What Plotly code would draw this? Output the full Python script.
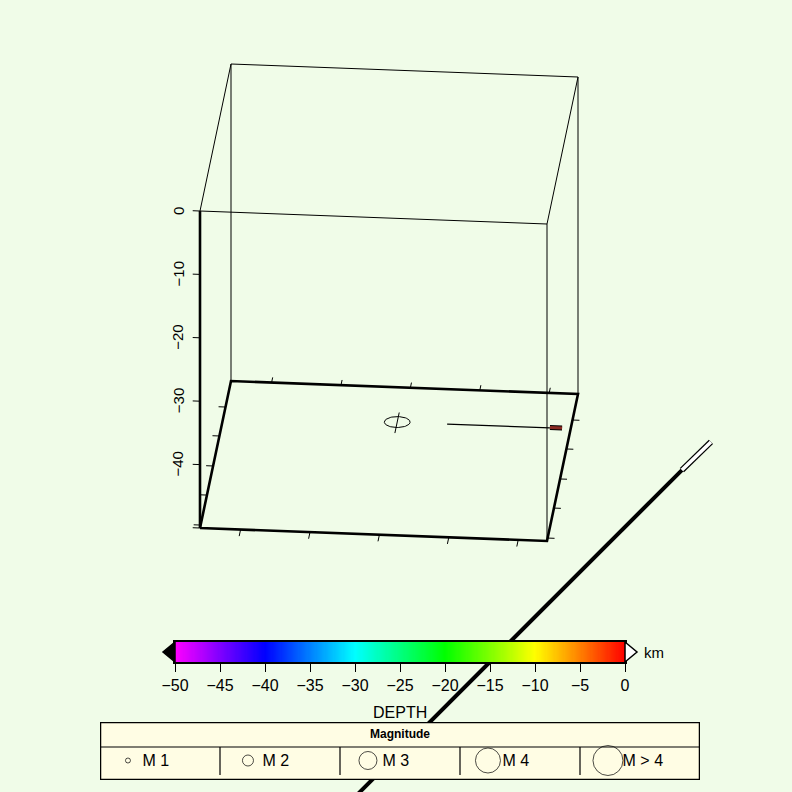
import numpy as np
import plotly.graph_objects as go

# ---------------- data ----------------
# 3-D box (normalised map units east/north, depth in km)
box_x = [0.0, 1.0]
box_y = [0.0, 1.0]
box_z = [-50.0, 0.0]
z_ticks = [0, -10, -20, -30, -40, -50]
z_tick_labels = ["0", "−10", "−20", "−30", "−40", ""]
x_ticks = [0.117, 0.317, 0.517, 0.717, 0.917]
y_ticks = [0.02, 0.224, 0.422, 0.626, 0.823]

# event symbol (circle on the base plane with a N-S bar)
event_x = [0.50]
event_y = [0.765]
event_z = [-50.0]
event_radius = [0.037]

# E-W section line and its end marker
section_x = [0.644, 0.940]
section_y = [0.764, 0.764]
section_end_x = [0.940, 0.975]
section_end_y = [0.766, 0.766]

# fault trace (solid part and outlined part)
fault_x = [0.533, 1.343]
fault_y = [-2.0, 0.513]
fault_tip_x = [1.343, 1.409]
fault_tip_y = [0.513, 0.710]

# colour bar
depth_ticks = [-50, -45, -40, -35, -30, -25, -20, -15, -10, -5, 0]
depth_range = [-50, 0]

# magnitude legend
mag_labels = ["M 1", "M 2", "M 3", "M 4", "M > 4"]
mag_symbol_sizes = [5, 11, 18, 25, 30]

# ---------------- style ----------------
W = H = 792
BG = "#f0fce8"
LEG_BG = "#fffde4"
FONT = "Liberation Sans, Arial, Helvetica, sans-serif"


def proj(X, Y, Z):
    X = np.asarray(X, float); Y = np.asarray(Y, float); Z = np.asarray(Z, float)
    px = 200 + 347 * X + 31 * Y
    py = 528 + 13 * X - 147 * Y - 6.34 * (Z + 50)
    return px, py


fig = go.Figure()


def add_line(X, Y, Z, width=1, color="black"):
    px, py = proj(X, Y, Z)
    fig.add_trace(go.Scatter(x=px, y=py, mode="lines", line=dict(color=color, width=width),
                             hoverinfo="skip", showlegend=False, xaxis="x", yaxis="y"))


x0, x1 = box_x
y0, y1 = box_y
zb, zt = box_z

# fault trace (drawn first, goes under the colour bar and legend)
add_line(fault_x, fault_y, [zb, zb], width=4)
add_line(fault_tip_x, fault_tip_y, [zb, zb], width=6)
add_line(fault_tip_x, fault_tip_y, [zb, zb], width=3.5, color="white")

# thin box edges
add_line([x0, x1, x1, x0, x0], [y0, y0, y1, y1, y0], [zt] * 5, width=1)
for (cx, cy) in [(x0, y1), (x1, y1), (x1, y0)]:
    add_line([cx, cx], [cy, cy], [zb, zt], width=1)

# base frame (thick)
add_line([x0, x1, x1, x0, x0], [y0, y0, y1, y1, y0], [zb] * 5, width=2.6)
# z axis
add_line([x0, x0], [y0, y0], [zb, zt], width=2.6)

# base frame ticks
for t in x_ticks:
    add_line([t, t], [y0, y0 - 0.045], [zb, zb], width=1)
    add_line([t, t], [y1, y1 + 0.035], [zb, zb], width=1)
for t in y_ticks:
    add_line([x0, x0 - 0.02], [t, t], [zb, zb], width=1)
    add_line([x1, x1 + 0.02], [t, t], [zb, zb], width=1)
# z ticks
for z in z_ticks:
    add_line([x0, x0 - 0.021], [y0, y0], [z, z], width=1)

# event symbol
th = np.linspace(0, 2 * np.pi, 73)
for ex, ey, ez, er in zip(event_x, event_y, event_z, event_radius):
    add_line(ex + er * np.cos(th), ey + er * np.sin(th), np.full_like(th, ez), width=1)
    add_line([ex, ex], [ey - 0.075, ey + 0.065], [ez, ez], width=1)

# section line
add_line(section_x, section_y, [zb, zb], width=1.2)
add_line(section_end_x, section_end_y, [zb, zb], width=5)
add_line(section_end_x, section_end_y, [zb, zb], width=3, color="#8a2a22")

annotations = []
for z, lab in zip(z_ticks, z_tick_labels):
    if not lab:
        continue
    px, py = proj(x0, y0, z)
    annotations.append(dict(x=float(px) - 22, y=float(py), xref="x", yref="y", text=lab,
                            textangle=-90, showarrow=False,
                            font=dict(family=FONT, size=15, color="black")))

# ---------------- colour bar ----------------
cb_x0, cb_x1 = 175 / W, 625 / W
cb_y0, cb_y1 = 1 - 662 / H, 1 - 642 / H
grad = np.linspace(depth_range[0], depth_range[1], 400)
rainbow = [[0.0, "rgb(255,0,255)"], [0.2, "rgb(0,0,255)"], [0.4, "rgb(0,255,255)"],
           [0.6, "rgb(0,255,0)"], [0.8, "rgb(255,255,0)"], [1.0, "rgb(255,0,0)"]]
fig.add_trace(go.Heatmap(z=[grad], x=grad, y=[0], colorscale=rainbow, showscale=False,
                         zmin=depth_range[0], zmax=depth_range[1], hoverinfo="skip",
                         xaxis="x2", yaxis="y2"))

# extension triangles
tw = 12 / W
ym = (cb_y0 + cb_y1) / 2
shapes = [
    dict(type="path", xref="paper", yref="paper",
         path=f"M {cb_x0},{cb_y0} L {cb_x0 - tw},{ym} L {cb_x0},{cb_y1} Z",
         fillcolor="black", line=dict(color="black", width=1.5)),
    dict(type="path", xref="paper", yref="paper",
         path=f"M {cb_x1},{cb_y0} L {cb_x1 + tw},{ym} L {cb_x1},{cb_y1} Z",
         fillcolor="white", line=dict(color="black", width=1.5)),
]
annotations.append(dict(x=cb_x1 + 17 / W, y=ym, xref="paper", yref="paper", text="km",
                        xanchor="left", yanchor="middle", showarrow=False,
                        font=dict(family=FONT, size=15, color="black")))
annotations.append(dict(x=(cb_x0 + cb_x1) / 2, y=1 - 712 / H, xref="paper", yref="paper",
                        text="DEPTH", xanchor="center", yanchor="middle", showarrow=False,
                        font=dict(family=FONT, size=16, color="black")))

# ---------------- magnitude legend ----------------
n = len(mag_labels)
fig.add_trace(go.Scatter(x=[0, n, n, 0, 0], y=[0, 0, 58, 58, 0], mode="lines", fill="toself",
                         fillcolor=LEG_BG, line=dict(color="black", width=2.5),
                         hoverinfo="skip", showlegend=False, xaxis="x3", yaxis="y3"))
fig.add_trace(go.Scatter(x=[0, n], y=[25, 25], mode="lines", line=dict(color="black", width=1.2),
                         hoverinfo="skip", showlegend=False, xaxis="x3", yaxis="y3"))
for i in range(1, n):
    fig.add_trace(go.Scatter(x=[i, i], y=[25, 53], mode="lines",
                             line=dict(color="black", width=1.2),
                             hoverinfo="skip", showlegend=False, xaxis="x3", yaxis="y3"))
idx = np.arange(n)
fig.add_trace(go.Scatter(x=idx + 0.233, y=[38.5] * n, mode="markers",
                         marker=dict(symbol="circle-open", size=mag_symbol_sizes,
                                     color="black", line=dict(width=1)),
                         cliponaxis=False, hoverinfo="skip", showlegend=False,
                         xaxis="x3", yaxis="y3"))
fig.add_trace(go.Scatter(x=idx + 0.355, y=[39.5] * n, mode="text", text=mag_labels,
                         textposition="middle right",
                         textfont=dict(family=FONT, size=16, color="black"),
                         cliponaxis=False, hoverinfo="skip", showlegend=False,
                         xaxis="x3", yaxis="y3"))
fig.add_trace(go.Scatter(x=[n / 2], y=[13], mode="text", text=["<b>Magnitude</b>"],
                         textfont=dict(family=FONT, size=12, color="black"),
                         cliponaxis=False, hoverinfo="skip", showlegend=False,
                         xaxis="x3", yaxis="y3"))

hidden = dict(visible=False, showgrid=False, zeroline=False, fixedrange=True, automargin=False)
fig.update_layout(
    width=W, height=H, autosize=False,
    margin=dict(l=0, r=0, t=0, b=0, pad=0, autoexpand=False),
    paper_bgcolor=BG, plot_bgcolor=BG, showlegend=False,
    xaxis=dict(domain=[0, 1], range=[0, W], **hidden),
    yaxis=dict(domain=[0, 1], range=[H, 0], **hidden),
    xaxis2=dict(domain=[cb_x0, cb_x1], range=depth_range, anchor="y2", automargin=False,
                tickvals=depth_ticks, ticktext=[str(v).replace("-", "−") for v in depth_ticks],
                ticks="outside", ticklen=8, tickwidth=1.2, tickcolor="black",
                showline=True, mirror=True, linewidth=2, linecolor="black",
                showgrid=False, zeroline=False, ticklabelstandoff=0,
                tickfont=dict(family=FONT, size=16, color="black")),
    yaxis2=dict(domain=[cb_y0, cb_y1], range=[-0.5, 0.5], anchor="x2", automargin=False,
                showticklabels=False, ticks="", showline=True, mirror=True,
                linewidth=2, linecolor="black", showgrid=False, zeroline=False),
    xaxis3=dict(domain=[100 / W, 700 / W], range=[0, n], anchor="y3", **hidden),
    yaxis3=dict(domain=[1 - 780 / H, 1 - 722 / H], range=[58, 0], anchor="x3", **hidden),
    shapes=shapes, annotations=annotations,
)

post = ("document.body.style.margin='0';document.body.style.padding='0';"
        "document.body.style.overflow='hidden';"
        "var gd=document.getElementById('{plot_id}');"
        "Plotly.relayout(gd,{width:792,height:792});")
fig.write_html("out.html", config={"responsive": False, "displayModeBar": False},
               post_script=post)
